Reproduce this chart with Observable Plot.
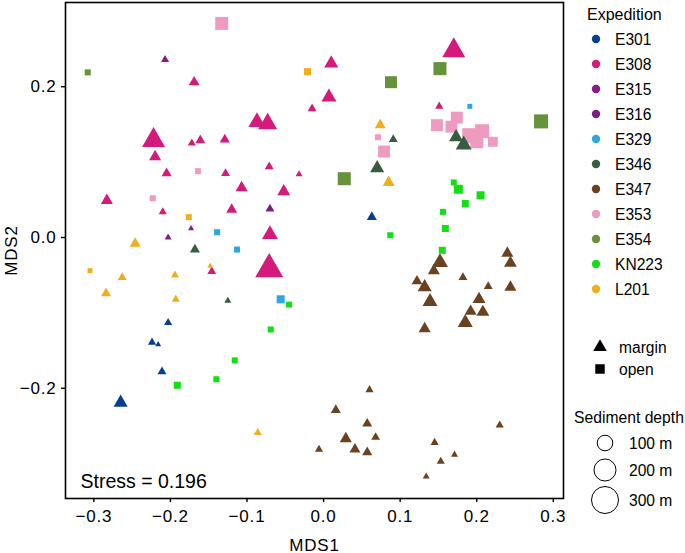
<!DOCTYPE html>
<html><head><meta charset="utf-8">
<script src="https://cdn.jsdelivr.net/npm/d3@7"></script>
<script src="https://cdn.jsdelivr.net/npm/@observablehq/plot@0.6"></script>
<style>
body{margin:0;background:#fff;font-family:"Liberation Sans",Arial,Helvetica,sans-serif;}
#wrap{position:relative;width:685px;height:553px;overflow:hidden;}
#chart{position:absolute;left:0;top:0;}
#legend{position:absolute;left:565px;top:0;}
#chart svg g[aria-label="x-axis tick label"] text,
#chart svg g[aria-label="y-axis tick label"] text{letter-spacing:0.8px;}
#chart svg g[aria-label="x-axis label"] text,
#chart svg g[aria-label="y-axis label"] text{letter-spacing:0.8px;}
</style></head><body>
<div id="wrap"><div id="chart"></div><svg id="legend" width="120" height="553"></svg></div>
<script>
// ---- data: [MDS1, MDS2, sediment depth (m)] ----
const expeditions = ["E301","E308","E315","E316","E329","E346","E347","E353","E354","KN223","L201"];
const colors = ["#063f8f","#d41a7a","#8a1a85","#7d1f80","#2aa9e0","#365e3e","#6b4220","#ef9bc1","#65923a","#12e012","#f0ae1f"];
const types = ["margin","open"];
const depthTicks = [100, 200, 300];
const stress = 0.196;

const E301 = [[0.063,0.027,23],[-0.203,-0.113,15],[-0.224,-0.139,15],[-0.216,-0.142,8],[-0.211,-0.178,18],[-0.265,-0.219,45]];
const E308 = [[0.170,0.248,120],[0.010,0.231,45],[0.007,0.186,51],[-0.015,0.171,18],[0.151,0.174,15],[-0.169,0.206,27],
  [-0.087,0.153,66],[-0.073,0.151,82],[-0.222,0.129,120],[-0.220,0.107,33],[-0.172,0.125,15],[-0.161,0.129,23],
  [-0.129,0.130,23],[-0.205,0.085,23],[-0.128,0.085,18],[-0.071,0.094,18],[-0.032,0.084,11],[-0.107,0.066,33],
  [-0.052,0.061,38],[-0.283,0.049,33],[-0.210,0.034,15],[-0.120,0.037,27],[-0.070,0.004,58],[-0.146,-0.045,18],
  [-0.071,-0.042,178]];
const E315 = [[-0.207,0.236,15],[-0.173,0.012,8]];
const E316 = [[-0.070,0.038,18],[-0.203,0.000,11]];
const E329 = [[0.191,0.174,13],[-0.139,0.007,19],[-0.113,-0.016,19],[-0.056,-0.082,34]];
const E346 = [[0.091,0.130,18],[0.070,0.092,45],[0.173,0.133,45],[0.183,0.123,58],[-0.168,-0.016,23],[-0.125,-0.084,11]];
const E347 = [[0.240,-0.021,33],[0.244,-0.034,38],[0.244,-0.066,33],[0.215,-0.065,18],[0.182,-0.053,18],[0.152,-0.033,58],
  [0.144,-0.044,33],[0.122,-0.058,27],[0.132,-0.066,45],[0.139,-0.085,51],[0.132,-0.121,33],[0.203,-0.082,38],
  [0.192,-0.098,33],[0.208,-0.099,38],[0.185,-0.113,51],
  [0.060,-0.202,15],[0.016,-0.229,23],[0.057,-0.247,23],[0.029,-0.267,33],[0.068,-0.265,18],[0.041,-0.281,27],
  [0.057,-0.285,23],[-0.006,-0.281,15],[0.145,-0.272,15],[0.171,-0.288,11],[0.153,-0.297,15],[0.134,-0.317,11],
  [0.230,-0.249,15]];
const E353 = [[-0.133,0.284,89],[-0.164,0.088,19],[-0.223,0.052,19],[0.071,0.133,19],[0.079,0.114,75],
  [0.148,0.149,75],[0.174,0.159,75],[0.167,0.147,75],[0.191,0.135,120],[0.207,0.141,103],[0.200,0.127,89],[0.221,0.127,52]];
const E354 = [[-0.308,0.219,19],[0.152,0.224,89],[0.088,0.206,75],[0.284,0.154,103],[0.027,0.078,89]];
const KN223 = [[0.170,0.073,19],[0.176,0.064,42],[0.205,0.056,34],[0.185,0.045,26],[0.156,0.034,19],[0.159,0.012,26],
  [0.155,-0.017,26],[0.087,0.003,19],[-0.045,-0.089,19],[-0.069,-0.122,19],[-0.116,-0.163,19],[-0.140,-0.188,19],[-0.191,-0.196,26]];
const L201_margin = [[0.074,0.149,27],[0.085,0.073,33],[-0.246,-0.008,27],[-0.263,-0.053,18],[-0.284,-0.074,23],
  [-0.194,-0.050,15],[-0.193,-0.082,15],[-0.148,-0.038,8],[-0.086,-0.259,15]];
const L201_open = [[-0.021,0.220,26],[-0.176,0.027,19],[-0.305,-0.044,13]];

// drawing order
const groups = [
  ["L201","margin",L201_margin],["L201","open",L201_open],["E301","margin",E301],["E315","margin",E315],
  ["E316","margin",E316],["E329","open",E329],["KN223","open",KN223],["E346","margin",E346],["E347","margin",E347],
  ["E353","open",E353],["E354","open",E354],["E308","margin",E308]
];
const points = groups.flatMap(([exp, type, pts]) => pts.map(([x, y, depth]) => ({exp, type, x, y, depth})));

const FONT = "Liberation Sans, Arial, Helvetica, sans-serif";
const rRange = [0, 13.5];

const chart = Plot.plot({
  width: 570, height: 553,
  marginLeft: 65, marginRight: 7, marginTop: 2, marginBottom: 55,
  style: {fontFamily: FONT, color: "black", background: "white"},
  x: {domain: [-0.337, 0.3133]},
  y: {domain: [-0.3462, 0.3117]},
  r: {type: "sqrt", domain: [0, 300], range: rRange},
  symbol: {domain: types, range: ["triangle", "square"]},
  color: {domain: expeditions, range: colors},
  marks: [
    Plot.dot(points, {x: "x", y: "y", r: "depth", symbol: "type", fill: "exp"}),
    Plot.frame({stroke: "black", strokeWidth: 1.6}),
    Plot.axisX({ticks: [-0.3,-0.2,-0.1,0,0.1,0.2,0.3], tickFormat: d3.format(".1f"), tickSize: 4, tickPadding: 7,
      fontSize: 17, strokeWidth: 1.4, label: "MDS1", labelArrow: "none", labelAnchor: "center", labelOffset: 52}),
    Plot.axisY({ticks: [-0.2,0,0.2], tickFormat: d3.format(".1f"), tickSize: 4, tickPadding: 5,
      fontSize: 17, strokeWidth: 1.4, label: "MDS2", labelArrow: "none", labelAnchor: "center", labelOffset: 61}),
    Plot.text([`Stress = ${stress}`], {frameAnchor: "bottom-left", dx: 15, dy: -11, textAnchor: "start",
      lineAnchor: "bottom", fontSize: 19.5, fill: "black"})
  ]
});
document.getElementById("chart").appendChild(chart);

// ---- legend ----
const L = d3.select("#legend").style("font-family", FONT);
const ox = 565;
L.append("text").attr("x", 587 - ox).attr("y", 20).attr("font-size", 16).text("Expedition");
expeditions.forEach((e, i) => {
  const cy = 39 + 25 * i;
  L.append("circle").attr("cx", 596 - ox).attr("cy", cy).attr("r", 4.2).attr("fill", colors[i]);
  L.append("text").attr("x", 615 - ox).attr("y", cy + 5.6).attr("font-size", 15.6).text(e);
});
const symY = [347, 369];
types.forEach((t, i) => {
  const sym = i === 0 ? d3.symbolTriangle : d3.symbolSquare;
  const size = i === 0 ? 80 : 90;
  L.append("path").attr("d", d3.symbol(sym, size)()).attr("transform", `translate(${600 - ox},${symY[i]})`).attr("fill", "black");
  L.append("text").attr("x", 619 - ox).attr("y", symY[i] + 5.6).attr("font-size", 15.6).text(t);
});
L.append("text").attr("x", 574 - ox).attr("y", 423).attr("font-size", 15.7).text("Sediment depth");
const rs = d3.scaleSqrt().domain([0, 300]).range(rRange);
const cys = [443, 470, 500];
depthTicks.forEach((d, i) => {
  L.append("circle").attr("cx", 605 - ox).attr("cy", cys[i]).attr("r", rs(d)).attr("fill", "none").attr("stroke", "black").attr("stroke-width", 1);
  L.append("text").attr("x", 629 - ox).attr("y", cys[i] + 5.6).attr("font-size", 15.6).text(`${d} m`);
});
</script></body></html>
